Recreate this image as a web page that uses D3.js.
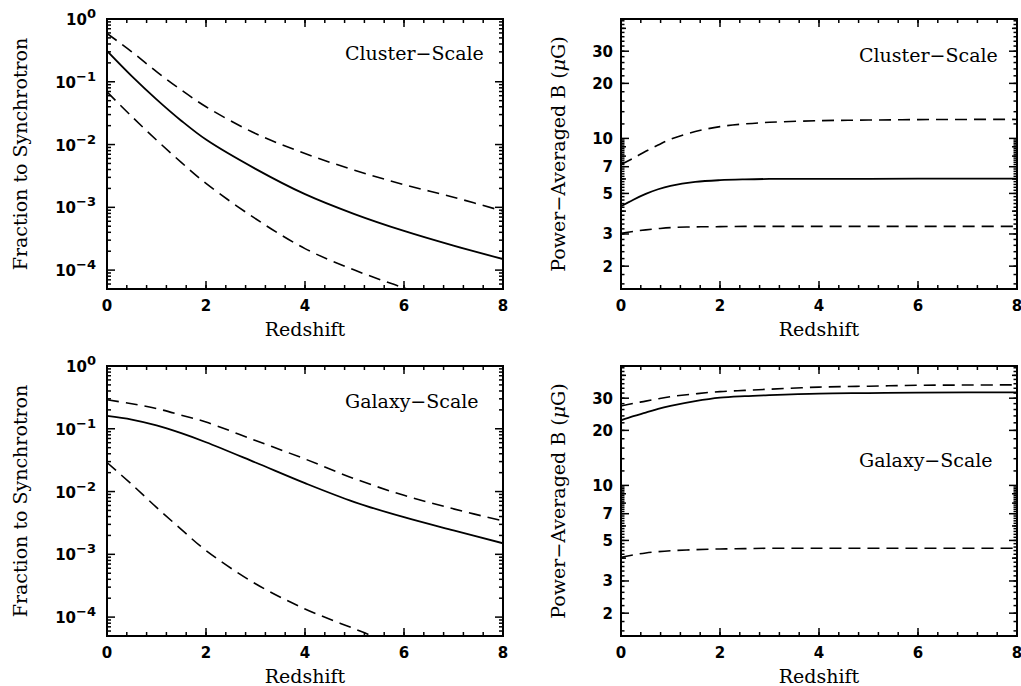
<!DOCTYPE html>
<html>
<head>
<meta charset="utf-8">
<script src="https://cdn.jsdelivr.net/npm/d3@7"></script>
<style>
  body { margin: 0; background: #fff; }
  .tick-label { font-family: "DejaVu Sans", sans-serif; font-weight: bold; font-size: 15px; }
  .title { font-family: "DejaVu Serif", serif; font-size: 19px; }
</style>
</head>
<body>
<div id="chart"></div>
<script>
// redshift grids
const zFrac = [0, 0.5, 1, 1.5, 2, 3, 4, 5, 6, 7, 8];
const zB = [0, 0.25, 0.5, 0.75, 1, 1.5, 2, 2.5, 3, 4, 5, 6, 7, 8];

// fraction of energy going to synchrotron
const clusterFracMid = [0.31, 0.123, 0.0525, 0.024, 0.012, 4.1e-3, 1.62e-3, 7.8e-4, 4.2e-4, 2.45e-4, 1.5e-4];
const clusterFracHigh = [0.59, 0.30, 0.145, 0.074, 0.04, 0.015, 7.2e-3, 3.9e-3, 2.3e-3, 1.45e-3, 8.7e-4];
const clusterFracLow = [0.069, 0.028, 0.0118, 5.2e-3, 2.4e-3, 6.6e-4, 2.2e-4, 1.0e-4, 5.2e-5, 2.8e-5, 1.6e-5];

const galaxyFracMid = [0.16, 0.14, 0.113, 0.085, 0.061, 0.029, 0.0136, 6.8e-3, 3.9e-3, 2.4e-3, 1.5e-3];
const galaxyFracHigh = [0.29, 0.25, 0.21, 0.165, 0.128, 0.065, 0.033, 0.016, 8.7e-3, 5.3e-3, 3.4e-3];
const galaxyFracLow = [0.029, 0.013, 5.6e-3, 2.5e-3, 1.15e-3, 3.4e-4, 1.35e-4, 6.5e-5, 3.2e-5, 1.7e-5, 1.0e-5];

// power-averaged field in microgauss
const clusterBMid = [4.25, 4.62, 4.97, 5.27, 5.5, 5.78, 5.91, 5.97, 6.0, 6.0, 6.01, 6.02, 6.03, 6.03];
const clusterBHigh = [7.2, 7.8, 8.5, 9.2, 9.9, 10.9, 11.6, 12.0, 12.25, 12.5, 12.6, 12.67, 12.7, 12.7];
const clusterBLow = [3.03, 3.1, 3.16, 3.21, 3.25, 3.28, 3.29, 3.3, 3.3, 3.3, 3.3, 3.3, 3.3, 3.3];

const galaxyBMid = [22.7, 23.9, 25.0, 26.2, 27.2, 28.9, 30.2, 30.8, 31.2, 31.8, 32.0, 32.2, 32.3, 32.3];
const galaxyBHigh = [27.2, 28.1, 28.9, 29.8, 30.6, 31.7, 32.6, 33.1, 33.6, 34.5, 34.9, 35.3, 35.4, 35.5];
const galaxyBLow = [4.04, 4.17, 4.27, 4.34, 4.39, 4.45, 4.49, 4.51, 4.53, 4.53, 4.53, 4.53, 4.53, 4.53];

// tick labels
const xTickLabels = [0, 2, 4, 6, 8];
const fracTickExps = [0, -1, -2, -3, -4];
const bTickLabels = [2, 3, 5, 7, 10, 20, 30];

const width = 1021, height = 686;

const svg = d3.select("#chart")
  .append("svg")
  .attr("width", width)
  .attr("height", height);

const fracDomain = [5e-5, 1];
const bDomain = [1.5, 45];

const panels = [
  { left: 107, top: 19, kind: "frac", label: "Cluster\u2212Scale", labelDy: 41,
    z: zFrac, series: [clusterFracMid, clusterFracHigh, clusterFracLow] },
  { left: 621, top: 19, kind: "b", label: "Cluster\u2212Scale", labelDy: 43,
    z: zB, series: [clusterBMid, clusterBHigh, clusterBLow] },
  { left: 107, top: 366, kind: "frac", label: "Galaxy\u2212Scale", labelDy: 42,
    z: zFrac, series: [galaxyFracMid, galaxyFracHigh, galaxyFracLow] },
  { left: 621, top: 366, kind: "b", label: "Galaxy\u2212Scale", labelDy: 101,
    z: zB, series: [galaxyBMid, galaxyBHigh, galaxyBLow] }
];

const pw = 396, ph = 270;

// minor tick positions
const xMinor = d3.range(0, 8.001, 0.4);
const fracMinor = [];
for (let e = -5; e < 0; e++) {
  for (let m = 2; m <= 9; m++) {
    const v = m * Math.pow(10, e);
    if (v >= fracDomain[0] && v <= fracDomain[1]) fracMinor.push(v);
  }
}
const bMinor = d3.range(1.6, 9.9, 0.2).concat(d3.range(12, 45, 2));
const bMid = [4, 6, 8, 9, 40];

panels.forEach((p, i) => {
  const g = svg.append("g").attr("transform", "translate(" + p.left + "," + p.top + ")");

  const x = d3.scaleLinear().domain([0, 8]).range([0, pw]);
  const y = d3.scaleLog()
    .domain(p.kind === "frac" ? fracDomain : bDomain)
    .range([ph, 0]);

  g.append("clipPath").attr("id", "clip" + i)
    .append("rect").attr("width", pw).attr("height", ph);

  // curves
  const line = d3.line()
    .x((d) => x(d[0]))
    .y((d) => y(d[1]))
    .curve(d3.curveCatmullRom.alpha(0.5));

  p.series.forEach((vals, k) => {
    g.append("path")
      .datum(p.z.map((z, j) => [z, vals[j]]))
      .attr("clip-path", "url(#clip" + i + ")")
      .attr("fill", "none")
      .attr("stroke", "#000")
      .attr("stroke-width", k === 0 ? 1.8 : 1.6)
      .attr("stroke-dasharray", k === 0 ? null : "12,7")
      .attr("d", line);
  });

  // ticks on all four sides, pointing inward
  const tickLine = (sel, vals, len, horiz) => {
    vals.forEach((v) => {
      if (horiz) {
        sel.append("line").attr("x1", x(v)).attr("x2", x(v)).attr("y1", ph).attr("y2", ph - len);
        sel.append("line").attr("x1", x(v)).attr("x2", x(v)).attr("y1", 0).attr("y2", len);
      } else {
        sel.append("line").attr("y1", y(v)).attr("y2", y(v)).attr("x1", 0).attr("x2", len);
        sel.append("line").attr("y1", y(v)).attr("y2", y(v)).attr("x1", pw).attr("x2", pw - len);
      }
    });
  };

  const ticks = g.append("g").attr("stroke", "#000").attr("stroke-width", 1.5);
  tickLine(ticks, xMinor, 4, true);
  tickLine(ticks, xTickLabels, 8, true);
  if (p.kind === "frac") {
    tickLine(ticks, fracMinor, 4, false);
    tickLine(ticks, fracTickExps.map((e) => Math.pow(10, e)), 8, false);
  } else {
    tickLine(ticks, bMinor, 3.5, false);
    tickLine(ticks, bMid, 5, false);
    tickLine(ticks, bTickLabels, 8, false);
  }

  // frame
  g.append("rect")
    .attr("width", pw)
    .attr("height", ph)
    .attr("fill", "none")
    .attr("stroke", "#000")
    .attr("stroke-width", 2);

  // x tick labels
  g.selectAll(".xl")
    .data(xTickLabels)
    .enter()
    .append("text")
    .attr("class", "tick-label")
    .attr("x", (d) => x(d))
    .attr("y", ph + 22)
    .attr("text-anchor", "middle")
    .text((d) => d);

  // y tick labels
  if (p.kind === "frac") {
    const t = g.selectAll(".yl")
      .data(fracTickExps)
      .enter()
      .append("text")
      .attr("class", "tick-label")
      .attr("x", -11)
      .attr("y", (d) => y(Math.pow(10, d)) + 6)
      .attr("text-anchor", "end");
    t.append("tspan").text("10");
    t.append("tspan")
      .attr("dy", -7)
      .attr("font-size", "13px")
      .text((d) => (d < 0 ? "\u2212" + (-d) : d));
  } else {
    g.selectAll(".yl")
      .data(bTickLabels)
      .enter()
      .append("text")
      .attr("class", "tick-label")
      .attr("x", -8)
      .attr("y", (d) => y(d) + 5.5)
      .attr("text-anchor", "end")
      .text((d) => d);
  }

  // axis titles
  g.append("text")
    .attr("class", "title")
    .attr("x", pw / 2)
    .attr("y", ph + 47)
    .attr("text-anchor", "middle")
    .text("Redshift");

  const yt = g.append("text")
    .attr("class", "title")
    .attr("text-anchor", "middle")
    .attr("transform", "translate(" + (p.kind === "frac" ? -80 : -56) + "," + ph / 2 + ") rotate(-90)");
  if (p.kind === "frac") {
    yt.text("Fraction to Synchrotron");
  } else {
    yt.append("tspan").text("Power\u2212Averaged B (");
    yt.append("tspan").attr("font-style", "italic").text("\u03bc");
    yt.append("tspan").text("G)");
  }

  // panel label
  g.append("text")
    .attr("class", "title")
    .attr("x", 238)
    .attr("y", p.labelDy)
    .text(p.label);
});
</script>
</body>
</html>
